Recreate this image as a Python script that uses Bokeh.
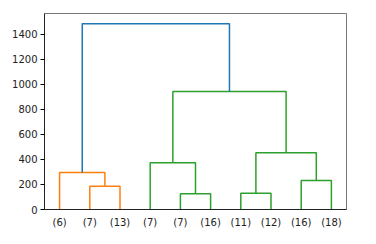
from bokeh.plotting import figure
from bokeh.models import FixedTicker, Range1d, ColumnDataSource
from bokeh.embed import file_html
from bokeh.resources import INLINE

# Leaf labels (cluster sizes), left to right
leaf_labels = ["(6)", "(7)", "(13)", "(7)", "(7)", "(16)", "(11)", "(12)", "(16)", "(18)"]

# Linkage: (left child, right child, merge height); ids >= 10 are earlier merges
merge_left = [1, 0, 4, 3, 6, 8, 14, 13, 11]
merge_right = [2, 10, 5, 12, 7, 9, 15, 16, 17]
merge_height = [186, 296, 125, 374, 130, 232, 453, 944, 1485]
merge_color = ["#ff7f0e", "#ff7f0e", "#2ca02c", "#2ca02c", "#2ca02c",
               "#2ca02c", "#2ca02c", "#2ca02c", "#1f77b4"]

y_ticks = [0, 200, 400, 600, 800, 1000, 1200, 1400]

n = len(leaf_labels)
leaf_x = [5 + 10 * i for i in range(n)]
pos = {i: (leaf_x[i], 0.0) for i in range(n)}
xs, ys, cols = [], [], []
for k, (a, b, h) in enumerate(zip(merge_left, merge_right, merge_height)):
    xa, ha = pos[a]
    xb, hb = pos[b]
    xs.append([xa, xa, xb, xb])
    ys.append([ha, h, h, hb])
    cols.append(merge_color[k])
    pos[n + k] = ((xa + xb) / 2.0, h)

src = ColumnDataSource(dict(xs=xs, ys=ys, color=cols))

p = figure(width=376, height=244, output_backend="svg", toolbar_location=None,
           x_range=Range1d(0, 10 * n), y_range=Range1d(0, max(merge_height) * 1.055),
           min_border_left=44, min_border_right=30, min_border_top=13, min_border_bottom=35)
p.multi_line(xs="xs", ys="ys", line_color="color", line_width=1.5, source=src)

p.grid.visible = False
p.background_fill_color = "white"
p.border_fill_color = "white"
p.outline_line_color = "#777777"
p.outline_line_width = 1

p.yaxis.ticker = FixedTicker(ticks=y_ticks)
p.yaxis.minor_tick_line_color = None
p.yaxis.major_tick_out = 4
p.yaxis.major_tick_in = 0
p.yaxis.major_label_standoff = 3
p.yaxis.axis_line_color = "#222222"

p.xaxis.ticker = FixedTicker(ticks=leaf_x)
p.xaxis.major_label_overrides = {x: lab for x, lab in zip(leaf_x, leaf_labels)}
p.xaxis.minor_tick_line_color = None
p.xaxis.major_tick_out = 0
p.xaxis.major_tick_in = 0
p.xaxis.major_label_standoff = 7
p.xaxis.axis_line_color = "#222222"

for ax in (p.xaxis, p.yaxis):
    ax.major_label_text_font = "DejaVu Sans"
    ax.major_label_text_font_size = "10px"
    ax.major_label_text_color = "#222222"

open("out.html", "w").write(file_html(p, INLINE))
